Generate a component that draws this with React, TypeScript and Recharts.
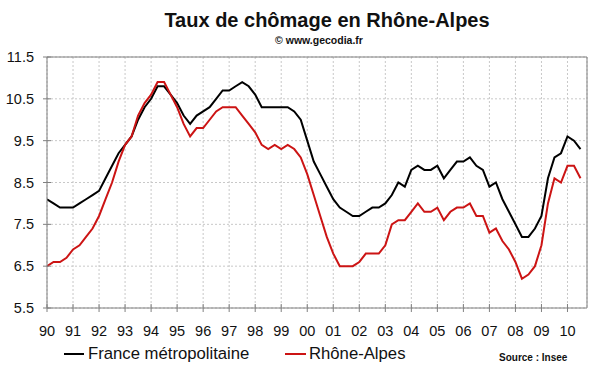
import React from 'react';
import { LineChart, Line, XAxis, YAxis, CartesianGrid, ReferenceLine, Legend } from 'recharts';

// quarterly unemployment rate, 1990 Q1 .. 2010 Q3
const france = [
  8.1, 8.0, 7.9, 7.9,
  7.9, 8.0, 8.1, 8.2,
  8.3, 8.6, 8.9, 9.2,
  9.4, 9.6, 10.0, 10.3,
  10.5, 10.8, 10.8, 10.6,
  10.4, 10.1, 9.9, 10.1,
  10.2, 10.3, 10.5, 10.7,
  10.7, 10.8, 10.9, 10.8,
  10.6, 10.3, 10.3, 10.3,
  10.3, 10.3, 10.2, 10.0,
  9.5, 9.0, 8.7, 8.4,
  8.1, 7.9, 7.8, 7.7,
  7.7, 7.8, 7.9, 7.9,
  8.0, 8.2, 8.5, 8.4,
  8.8, 8.9, 8.8, 8.8,
  8.9, 8.6, 8.8, 9.0,
  9.0, 9.1, 8.9, 8.8,
  8.4, 8.5, 8.1, 7.8,
  7.5, 7.2, 7.2, 7.4,
  7.7, 8.6, 9.1, 9.2,
  9.6, 9.5, 9.3,
];

const rhoneAlpes = [
  6.5, 6.6, 6.6, 6.7,
  6.9, 7.0, 7.2, 7.4,
  7.7, 8.1, 8.5, 9.0,
  9.4, 9.6, 10.1, 10.4,
  10.6, 10.9, 10.9, 10.6,
  10.3, 9.9, 9.6, 9.8,
  9.8, 10.0, 10.2, 10.3,
  10.3, 10.3, 10.1, 9.9,
  9.7, 9.4, 9.3, 9.4,
  9.3, 9.4, 9.3, 9.1,
  8.7, 8.2, 7.7, 7.2,
  6.8, 6.5, 6.5, 6.5,
  6.6, 6.8, 6.8, 6.8,
  7.0, 7.5, 7.6, 7.6,
  7.8, 8.0, 7.8, 7.8,
  7.9, 7.6, 7.8, 7.9,
  7.9, 8.0, 7.7, 7.7,
  7.3, 7.4, 7.1, 6.9,
  6.6, 6.2, 6.3, 6.5,
  7.0, 8.0, 8.6, 8.5,
  8.9, 8.9, 8.6,
];

const yearTicks = [
  1990, 1991, 1992, 1993, 1994, 1995, 1996, 1997, 1998, 1999, 2000,
  2001, 2002, 2003, 2004, 2005, 2006, 2007, 2008, 2009, 2010,
];
const rateTicks = [5.5, 6.5, 7.5, 8.5, 9.5, 10.5, 11.5];

const START_YEAR = 1990;
const data = france.map((v, i) => ({
  t: START_YEAR + i / 4,
  france: v,
  rhone: rhoneAlpes[i],
}));

const FONT = '"Liberation Sans", Arial, sans-serif';
const AXIS = '#808080';
const RED = '#cc1414';

const XTick = (props: any) => {
  const { x, y, payload } = props;
  const label = String(payload.value % 100).padStart(2, '0');
  return (
    <g>
      <line x1={x} x2={x} y1={y - 4} y2={y + 4} stroke={AXIS} />
      <text x={x} y={y + 28} textAnchor="middle" fontSize={14.5} fill="#111" fontFamily={FONT}>
        {label}
      </text>
    </g>
  );
};

const YTick = (props: any) => {
  const { x, y, payload } = props;
  return (
    <g>
      <line x1={x - 4} x2={x + 4} y1={y} y2={y} stroke={AXIS} />
      <text x={x - 13} y={y + 5} textAnchor="end" fontSize={14.5} fill="#111" fontFamily={FONT}>
        {payload.value.toFixed(1)}
      </text>
    </g>
  );
};

const renderLegend = () => (
  <div style={{ position: 'relative', width: 600, height: 0, fontFamily: FONT }}>
    <div style={{ position: 'absolute', left: 64, top: 353, width: 20, height: 2, background: '#000' }} />
    <div style={{ position: 'absolute', left: 88, top: 345, fontSize: 16.7, lineHeight: '17px', color: '#111', whiteSpace: 'nowrap' }}>
      France métropolitaine
    </div>
    <div style={{ position: 'absolute', left: 285, top: 353, width: 21, height: 2, background: RED }} />
    <div style={{ position: 'absolute', left: 309, top: 345, fontSize: 16.7, lineHeight: '17px', color: '#111', whiteSpace: 'nowrap' }}>
      Rhône-Alpes
    </div>
    <div style={{ position: 'absolute', left: 499, top: 353, fontSize: 10, lineHeight: '10px', fontWeight: 'bold', color: '#111', whiteSpace: 'nowrap' }}>
      Source : Insee
    </div>
  </div>
);

const App = () => {
  return (
    <div style={{ position: 'absolute', left: 0, top: 0, width: 600, height: 372, background: '#fff', fontFamily: FONT }}>
      <div style={{ position: 'absolute', left: 127, top: 10, width: 400, textAlign: 'center', fontSize: 20, lineHeight: '20px', fontWeight: 'bold', color: '#111' }}>
        Taux de chômage en Rhône-Alpes
      </div>
      <div style={{ position: 'absolute', left: 219, top: 35, width: 200, textAlign: 'center', fontSize: 10.5, lineHeight: '11px', fontWeight: 'bold', color: '#111' }}>
        © www.gecodia.fr
      </div>
      <LineChart width={600} height={372} data={data} margin={{ top: 57, right: 13, bottom: 34, left: 7 }}>
        <CartesianGrid stroke="#c8c8c8" strokeDasharray="2 2" />
        <XAxis
          dataKey="t"
          type="number"
          domain={[1990, 2010.75]}
          ticks={yearTicks}
          allowDataOverflow
          height={30}
          stroke={AXIS}
          tickLine={false}
          tickSize={0}
          tickMargin={0}
          tick={<XTick />}
          interval={0}
        />
        <YAxis
          type="number"
          domain={[5.5, 11.5]}
          ticks={rateTicks}
          allowDataOverflow
          width={40}
          stroke={AXIS}
          tickLine={false}
          tickSize={0}
          tickMargin={0}
          tick={<YTick />}
          interval={0}
        />
        <ReferenceLine y={11.5} stroke={AXIS} />
        <ReferenceLine x={2010.75} stroke={AXIS} />
        <Line dataKey="france" stroke="#000" strokeWidth={2} dot={false} isAnimationActive={false} />
        <Line dataKey="rhone" stroke={RED} strokeWidth={2} dot={false} isAnimationActive={false} />
        <Legend content={renderLegend} wrapperStyle={{ left: 0, top: 0, width: 600, height: 0 }} />
      </LineChart>
    </div>
  );
};

export default App;
